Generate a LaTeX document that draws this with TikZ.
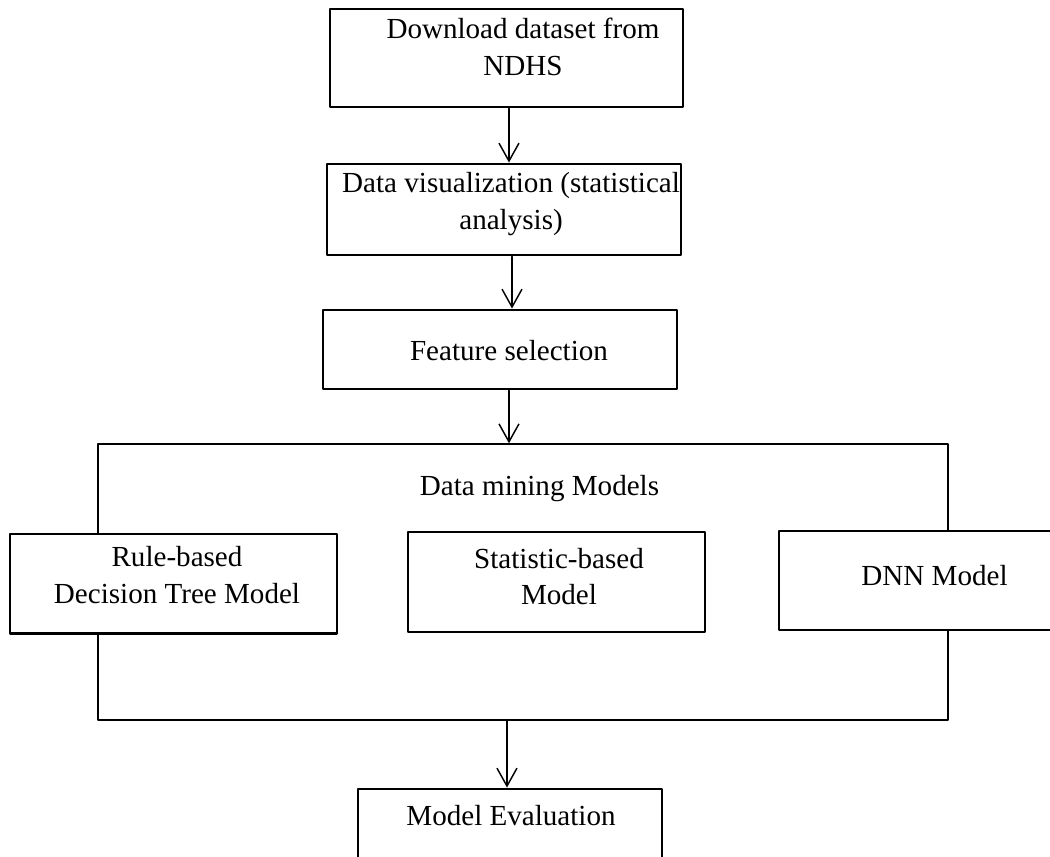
\documentclass[tikz,border=0pt]{standalone}
\usepackage{fontspec}
\setmainfont{Liberation Serif}
\usetikzlibrary{arrows.meta}
\tikzset{
	stage/.style={draw,rectangle,line width=1.2pt,fill=white,inner sep=0pt},
	frame/.style={draw,rectangle,line width=0.6pt,inner sep=0pt},
	txt/.style={font=\fontsize{12}{15}\selectfont,align=center,inner sep=0pt},
	flow/.style={->,line width=0.6pt}
}
\begin{document}
\begin{tikzpicture}[line cap=round,line join=round,>={Straight Barb[length=2.6mm,width=2.9mm]},x=1cm,y=1cm]
			\useasboundingbox (0,0) rectangle (15.225,12.412);
			\clip(0,0) rectangle (15.225,12.412);
			\node[stage,minimum width=5.119cm,minimum height=1.421cm] (dl) at (7.344,11.571) {};
			\node[txt] (dltext) at (7.5835,11.73) {Download dataset from\\NDHS};
			\node[stage,minimum width=5.133cm,minimum height=1.32cm] (dv) at (7.308,9.374) {};
			\node[txt] (dvtext) at (7.41,9.454) {Data visualization (statistical\\analysis)};
			\node[stage,minimum width=5.133cm,minimum height=1.146cm] (fs) at (7.25,7.344) {};
			\node[txt,anchor=base] (fstext) at (7.3805,7.192) {Feature selection};
			\node[frame,minimum width=12.325cm,minimum height=4.002cm] (dm) at (7.5835,3.973) {};
			\node[txt,anchor=base] (dmtext) at (7.823,5.2345) {Data mining Models};
			\node[stage,minimum width=4.742cm,minimum height=1.436cm] (rb) at (2.516,3.951) {};
			\node[txt] (rbtext) at (2.5665,4.0745) {Rule-based\\Decision Tree Model};
			\node[stage,minimum width=4.307cm,minimum height=1.45cm] (sb) at (8.069,3.973) {};
			\node[txt] (sbtext) at (8.1055,4.053) {Statistic-based\\Model};
			\node[stage,minimum width=4.5095cm,minimum height=1.4355cm] (dnn) at (13.55,3.995) {};
			\node[txt,anchor=base] (dnntext) at (13.55,3.9295) {DNN Model};
			\node[stage,minimum width=4.408cm,minimum height=1.16cm] (ev) at (7.395,0.3915) {};
			\node[txt,anchor=base] (evtext) at (7.4095,0.4495) {Model Evaluation};
			\draw[flow] ([xshift=0.036cm]dl.south) -- ([xshift=0.036cm]dl.south |- dv.north);
			\draw[flow] ([xshift=0.116cm]dv.south) -- ([xshift=0.116cm]dv.south |- fs.north);
			\draw[flow] ([xshift=0.13cm]fs.south) -- ([xshift=0.13cm]fs.south |- dm.north);
			\draw[flow] ([xshift=-0.044cm]ev.north |- dm.south) -- ([xshift=-0.044cm]ev.north);
		\end{tikzpicture}
\end{document}
